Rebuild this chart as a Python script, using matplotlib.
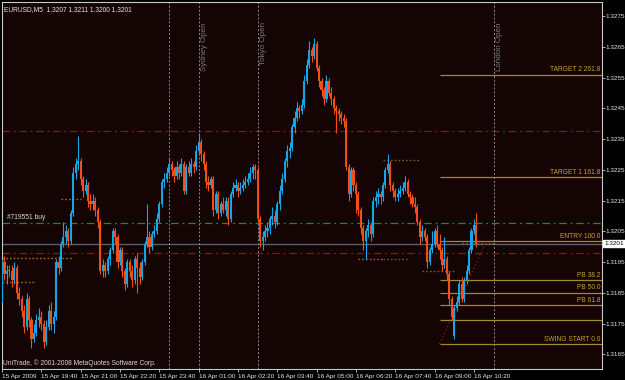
import matplotlib
matplotlib.use("Agg")
import matplotlib.pyplot as plt
import matplotlib.transforms as mtransforms
import pandas as pd

# ---------------- data ----------------
symbol_info = "EURUSD,M5  1.3207 1.3211 1.3200 1.3201"
copyright_text = "UniTrade, \u00a9 2001-2008 MetaQuotes Software Corp."
first_bar = "2009-04-15 18:20"
bar_minutes = 5

# prices in pips (price * 10000)
opens_pips = [
13183,13195,13191,13192,13192,13189,13193,13185,13183,13179,
13174,13183,13176,13170,13172,13176,13177,13175,13169,13174,
13179,13175,13177,13195,13193,13201,13203,13205,13202,13211,
13224,13227,13228,13222,13218,13220,13215,13214,13215,13212,
13208,13192,13194,13192,13196,13199,13205,13203,13195,13199,
13192,13188,13195,13192,13189,13196,13193,13190,13195,13201,
13203,13200,13204,13205,13209,13214,13221,13222,13224,13227,
13225,13223,13226,13224,13227,13218,13226,13224,13227,13226,
13231,13234,13230,13227,13221,13220,13222,13212,13217,13211,
13214,13212,13215,13209,13217,13219,13220,13218,13219,13220,
13221,13222,13224,13226,13225,13209,13202,13203,13205,13206,
13209,13210,13208,13214,13218,13222,13228,13231,13232,13239,
13242,13245,13244,13246,13254,13259,13264,13262,13266,13258,
13254,13251,13248,13254,13250,13248,13245,13244,13243,13242,
13241,13226,13217,13225,13220,13217,13212,13206,13202,13205,
13207,13204,13215,13216,13217,13216,13220,13225,13227,13220,
13218,13216,13217,13218,13219,13221,13217,13216,13214,13213,
13208,13203,13205,13203,13195,13199,13201,13205,13201,13199,
13194,13196,13191,13183,13171,13180,13182,13188,13183,13189,
13192,13199,13205,13207]
highs_pips = [
13196,13197,13194,13194,13194,13195,13194,13187,13184,13181,
13185,13184,13177,13175,13178,13180,13179,13176,13176,13181,
13182,13179,13196,13197,13202,13208,13207,13206,13212,13226,
13229,13236,13229,13223,13222,13221,13217,13217,13216,13213,
13209,13196,13195,13197,13200,13206,13206,13204,13200,13200,
13193,13196,13196,13194,13197,13198,13195,13196,13202,13214,
13205,13205,13207,13211,13215,13222,13224,13226,13229,13228,
13226,13228,13227,13229,13228,13227,13228,13229,13228,13233,
13237,13235,13231,13228,13223,13223,13223,13218,13218,13215,
13216,13216,13216,13218,13221,13222,13221,13221,13222,13223,
13224,13226,13227,13227,13226,13210,13205,13207,13208,13210,
13213,13212,13215,13220,13224,13229,13233,13234,13240,13244,
13247,13246,13248,13256,13261,13267,13265,13268,13267,13259,
13255,13252,13256,13255,13252,13249,13246,13245,13244,13243,
13242,13227,13226,13226,13221,13218,13213,13207,13206,13209,
13208,13216,13218,13219,13218,13221,13226,13230,13228,13221,
13219,13219,13220,13221,13223,13222,13218,13217,13216,13214,
13209,13207,13206,13204,13200,13205,13206,13207,13204,13200,
13203,13197,13192,13184,13181,13184,13189,13190,13190,13194,
13200,13206,13209,13211]
lows_pips = [
13182,13189,13188,13190,13187,13188,13183,13181,13177,13172,
13173,13174,13167,13169,13171,13174,13173,13167,13168,13173,
13173,13172,13176,13191,13192,13200,13201,13200,13201,13210,
13222,13225,13220,13216,13217,13213,13212,13212,13210,13206,
13191,13190,13190,13191,13194,13198,13201,13193,13194,13190,
13186,13187,13190,13187,13188,13185,13188,13189,13194,13200,
13198,13199,13203,13204,13208,13213,13219,13221,13223,13223,
13221,13222,13222,13223,13217,13217,13223,13223,13224,13225,
13230,13228,13225,13219,13218,13219,13210,13211,13209,13210,
13211,13210,13207,13208,13216,13218,13216,13217,13218,13219,
13220,13221,13222,13222,13208,13200,13199,13202,13203,13204,
13207,13206,13207,13212,13217,13221,13226,13229,13231,13237,
13241,13242,13243,13245,13253,13258,13260,13261,13257,13252,
13249,13246,13247,13249,13246,13243,13237,13241,13240,13239,
13225,13215,13216,13218,13211,13210,13204,13199,13196,13203,
13202,13203,13213,13214,13214,13215,13219,13224,13218,13216,
13215,13215,13216,13217,13218,13216,13214,13213,13211,13207,
13201,13202,13202,13193,13194,13198,13200,13200,13196,13192,
13193,13189,13181,13176,13170,13179,13181,13182,13182,13188,
13191,13198,13204,13200]
closes_pips = [
13195,13191,13192,13192,13189,13193,13185,13183,13179,13174,
13183,13176,13170,13172,13176,13177,13175,13169,13174,13179,
13175,13177,13195,13193,13201,13203,13205,13202,13211,13224,
13227,13228,13222,13218,13220,13215,13214,13215,13212,13208,
13192,13194,13192,13196,13199,13205,13203,13195,13199,13192,
13188,13195,13192,13189,13196,13193,13190,13195,13201,13203,
13200,13204,13205,13209,13214,13221,13222,13224,13227,13225,
13223,13226,13224,13227,13218,13226,13224,13227,13226,13231,
13234,13230,13227,13221,13220,13222,13212,13217,13211,13214,
13212,13215,13209,13217,13219,13220,13218,13219,13220,13221,
13222,13224,13226,13225,13209,13202,13203,13205,13206,13209,
13210,13208,13214,13218,13222,13228,13231,13232,13239,13242,
13245,13244,13246,13254,13259,13264,13262,13266,13258,13254,
13251,13248,13254,13250,13248,13245,13244,13243,13242,13241,
13226,13217,13225,13220,13217,13212,13206,13202,13205,13207,
13204,13215,13216,13217,13216,13220,13225,13227,13220,13218,
13216,13217,13218,13219,13221,13217,13216,13214,13213,13208,
13203,13205,13203,13195,13199,13201,13205,13201,13199,13194,
13196,13191,13183,13177,13180,13182,13188,13183,13189,13192,
13199,13205,13207,13201]

price_ticks = [1.3165, 1.3175, 1.3185, 1.3195, 1.3205, 1.3215,
               1.3225, 1.3235, 1.3245, 1.3255, 1.3265, 1.3275]
price_tick_labels = ["1.3165", "1.3175", "1.3185", "1.3195", "1.3205", "1.3215",
                     "1.3225", "1.3235", "1.3245", "1.3255", "1.3265", "1.3275"]

time_tick_times = ["2009-04-15 18:20", "2009-04-15 19:40", "2009-04-15 21:00",
                   "2009-04-15 22:20", "2009-04-15 23:40", "2009-04-16 01:00",
                   "2009-04-16 02:20", "2009-04-16 03:40", "2009-04-16 05:00",
                   "2009-04-16 06:20", "2009-04-16 07:40", "2009-04-16 09:00",
                   "2009-04-16 10:20"]
time_tick_labels = ["15 Apr 2009", "15 Apr 19:40", "15 Apr 21:00", "15 Apr 22:20",
                    "15 Apr 23:40", "16 Apr 01:00", "16 Apr 02:20", "16 Apr 03:40",
                    "16 Apr 05:00", "16 Apr 06:20", "16 Apr 07:40", "16 Apr 09:00",
                    "16 Apr 10:20"]

session_times = ["2009-04-16 00:00", "2009-04-16 01:00", "2009-04-16 03:00", "2009-04-16 11:00"]
session_labels = ["", "Sydney Open", "Tokyo Open", "London Open"]

order_label = "#719551 buy"
order_price = 1.32077
stop_prices = [1.32376, 1.31981]
bid_price = 1.3201
bid_label = "1.3201"

fib_start_time = "2009-04-16 09:10"
fib_start_price = 1.31683
fib_end_time = "2009-04-16 10:45"
fib_end_price = 1.32018
fib_ratios = [0.0, 0.236, 0.382, 0.5, 0.618, 1.0, 1.618, 2.618]
fib_labels = ["SWING START 0.0", "", "PB 61.8", "PB 50.0", "PB 38.2",
              "ENTRY 100.0", "TARGET 1 161.8", "TARGET 2 261.8"]

level_starts = ["2009-04-15 20:20", "2009-04-15 18:20", "2009-04-15 18:20",
                "2009-04-16 07:15", "2009-04-16 06:25", "2009-04-16 07:15",
                "2009-04-16 08:35", "2009-04-16 09:55"]
level_ends = ["2009-04-15 21:00", "2009-04-15 20:45", "2009-04-15 19:30",
              "2009-04-16 08:30", "2009-04-16 07:15", "2009-04-16 08:05",
              "2009-04-16 09:40", "2009-04-16 11:00"]
level_prices = [1.32155, 1.31963, 1.31885, 1.32282, 1.31960, 1.31960, 1.31921, 1.32012]
level_colors = ["#b5600e", "#b5600e", "#b5600e", "#7a5a1e", "#b5600e", "#6a5030",
                "#7a5a1e", "#6a6020"]

# ---------------- helpers ----------------
t0 = pd.Timestamp(first_bar)
step = pd.Timedelta(minutes=bar_minutes)


def tx(t):
    return (pd.Timestamp(t) - t0) / step


FONT = ["Liberation Sans", "DejaVu Sans"]
plt.rcParams["font.family"] = FONT
FS = 4.6

BG = "#140404"
BULL = "#16a6e6"
BEAR = "#f24e16"
DOJI = "#10b010"
FRAME = "#c8c8c8"
TXT = "#e6e6e6"

fig = plt.figure(figsize=(6.25, 3.8), dpi=100, facecolor="black")
ax = fig.add_axes([2 / 625, 11 / 380, 600 / 625, 367 / 380])
ax.set_facecolor(BG)

xmin, xmax = 0.2, 244.1
ax.set_xlim(xmin, xmax)
ax.set_ylim(1.31602, 1.32796)

# horizontal full-width lines
for sp in stop_prices:
    ax.axhline(sp, color="#9a1010", lw=0.9, ls=(0, (6, 3, 1.5, 3)), zorder=1)
ax.axhline(order_price, color="#0a9a0a", lw=0.9, ls=(0, (6, 3, 1.5, 3)), zorder=1)
ax.axhline(bid_price, color="#56606a", lw=1.0, zorder=1)

# session vertical lines
for st, lab in zip(session_times, session_labels):
    xs = tx(st)
    ax.axvline(xs, color="#8a8a8a", lw=0.7, ls=(0, (2, 2)), zorder=1)
    if lab:
        ax.text(xs + 0.9, 0.945, lab, rotation=90, va="top", ha="left",
                color="#7c7c7c", fontsize=FS + 1.2,
                transform=mtransforms.blended_transform_factory(ax.transData, ax.transAxes))

# fractal / level dotted segments
for s, e, p, c in zip(level_starts, level_ends, level_prices, level_colors):
    ax.hlines(p, tx(s), tx(e), colors=c, lw=1.0, linestyles=(0, (1.2, 1.5)), zorder=1)

# fibonacci
fx0 = tx(fib_start_time)
fx1 = tx(fib_end_time)
rng = fib_end_price - fib_start_price
for r, lab in zip(fib_ratios, fib_labels):
    p = fib_start_price + r * rng
    ax.hlines(p, fx0, xmax, colors="#a08a2a", lw=0.9, zorder=2)
    if lab:
        ax.text(xmax - 0.6, p + 0.00004, lab, ha="right", va="bottom",
                color="#c9a22e", fontsize=FS + 0.2, zorder=3)
ax.plot([fx0, fx1], [fib_start_price, fib_end_price], color="#b01010",
        lw=0.9, ls=(0, (1, 2)), zorder=2)

# candles
for i, (o, h, l, c) in enumerate(zip(opens_pips, highs_pips, lows_pips, closes_pips)):
    o, h, l, c = o / 1e4, h / 1e4, l / 1e4, c / 1e4
    if c > o:
        col = BULL
    elif c < o:
        col = BEAR
    else:
        col = DOJI
    ax.vlines(i, l, h, colors=col, lw=0.8, zorder=4)
    body = max(abs(c - o), 0.00003)
    ax.bar(i, body, bottom=min(o, c), width=0.85, color=col, lw=0, zorder=5)

# texts
ax.text(0.004, 0.988, symbol_info, transform=ax.transAxes, ha="left", va="top",
        color=TXT, fontsize=FS + 0.2)
ax.text(2.0, order_price + 0.00005, order_label, ha="left", va="bottom",
        color="#d8d8d8", fontsize=FS + 0.2)
ax.text(0.002, 0.006, copyright_text, transform=ax.transAxes, ha="left", va="bottom",
        color="#d8d8d8", fontsize=FS + 0.2)

# axes styling
for s in ax.spines.values():
    s.set_color(FRAME)
    s.set_linewidth(0.8)

ax.yaxis.tick_right()
ax.set_yticks(price_ticks)
ax.set_yticklabels(price_tick_labels)
ax.tick_params(axis="y", colors=FRAME, labelcolor=TXT, labelsize=FS, length=2,
               width=0.6, pad=0.8)

ax.set_xticks([tx(t) for t in time_tick_times])
ax.set_xticklabels(time_tick_labels)
ax.tick_params(axis="x", colors=FRAME, labelcolor=TXT, labelsize=FS, length=2.5,
               width=0.6, pad=0.8)
for lbl in ax.get_xticklabels():
    lbl.set_horizontalalignment("left")

# current bid price box
ax.text(1.004, bid_price, bid_label, ha="left", va="center", color="black",
        fontsize=FS, transform=mtransforms.blended_transform_factory(ax.transAxes, ax.transData),
        bbox=dict(boxstyle="square,pad=0.2", facecolor="white", edgecolor="white"))

fig.savefig("out.png", dpi=100, facecolor="black")
